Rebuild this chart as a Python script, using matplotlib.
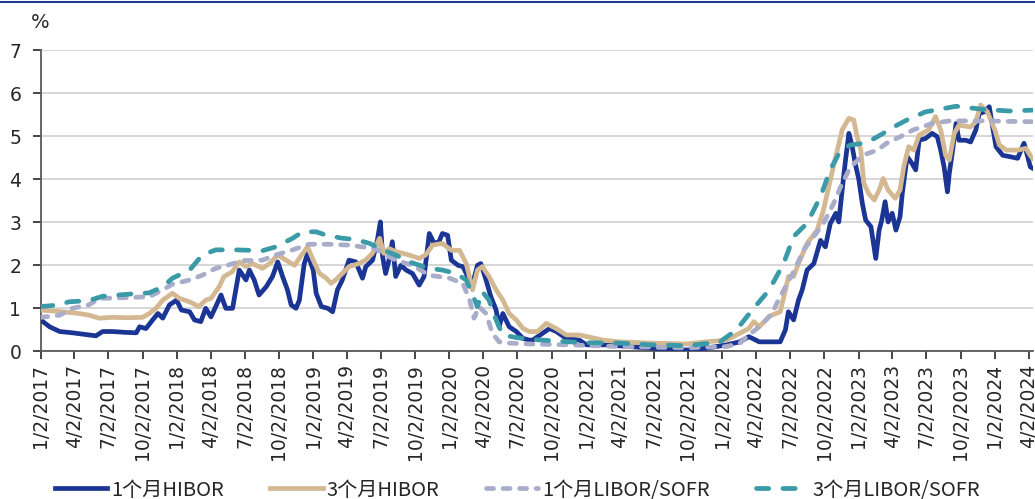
import matplotlib
matplotlib.use("Agg")
import matplotlib.pyplot as plt
from matplotlib.lines import Line2D
import pandas as pd

plt.rcParams["font.family"] = ["Noto Sans CJK SC", "DejaVu Sans"]
plt.rcParams["axes.unicode_minus"] = False

# ---- data ----
hibor_1m_dates = [
    "2017-01-02", "2017-01-26", "2017-02-22", "2017-03-28", "2017-04-24", "2017-05-30",
    "2017-06-17", "2017-07-13", "2017-08-18", "2017-09-15", "2017-09-24", "2017-10-11",
    "2017-10-29", "2017-11-12", "2017-11-25", "2017-12-13", "2018-01-01", "2018-01-14",
    "2018-02-05", "2018-02-18", "2018-03-07", "2018-03-20", "2018-04-03", "2018-04-16",
    "2018-04-30", "2018-05-13", "2018-05-31", "2018-06-18", "2018-07-06", "2018-07-15",
    "2018-07-28", "2018-08-10", "2018-08-29", "2018-09-15", "2018-09-29", "2018-10-12",
    "2018-10-25", "2018-11-04", "2018-11-17", "2018-11-26", "2018-12-09", "2018-12-18",
    "2019-01-02", "2019-01-10", "2019-01-24", "2019-02-10", "2019-02-23", "2019-03-08",
    "2019-03-21", "2019-04-08", "2019-04-26", "2019-05-14", "2019-05-23", "2019-06-10",
    "2019-06-23", "2019-07-01", "2019-07-07", "2019-07-15", "2019-07-24", "2019-08-02",
    "2019-08-11", "2019-08-25", "2019-09-08", "2019-09-25", "2019-10-13", "2019-10-26",
    "2019-11-09", "2019-11-22", "2019-12-05", "2019-12-14", "2019-12-28", "2020-01-07",
    "2020-01-25", "2020-02-07", "2020-02-16", "2020-03-02", "2020-03-17", "2020-03-26",
    "2020-04-09", "2020-04-22", "2020-05-06", "2020-05-14", "2020-05-24", "2020-06-10",
    "2020-06-29", "2020-07-17", "2020-08-03", "2020-08-12", "2020-09-26", "2020-10-14",
    "2020-11-10", "2020-12-15", "2021-01-03", "2021-02-26", "2021-04-27", "2021-06-29",
    "2021-09-27", "2021-11-20", "2022-01-13", "2022-02-18", "2022-03-14", "2022-04-11",
    "2022-05-25", "2022-06-06", "2022-06-20", "2022-06-28", "2022-07-12", "2022-07-25",
    "2022-08-04", "2022-08-17", "2022-09-04", "2022-09-22", "2022-10-05", "2022-10-18",
    "2022-11-02", "2022-11-10", "2022-11-19", "2022-11-28", "2022-12-07", "2022-12-15",
    "2022-12-24", "2023-01-03", "2023-01-12", "2023-01-21", "2023-02-04", "2023-02-17",
    "2023-02-26", "2023-03-05", "2023-03-14", "2023-03-22", "2023-04-02", "2023-04-12",
    "2023-04-23", "2023-04-29", "2023-05-12", "2023-05-25", "2023-06-04", "2023-06-13",
    "2023-06-30", "2023-07-18", "2023-08-01", "2023-08-10", "2023-08-19", "2023-08-28",
    "2023-09-02", "2023-09-11", "2023-09-20", "2023-09-28", "2023-10-16", "2023-10-29",
    "2023-11-12", "2023-11-21", "2023-12-05", "2023-12-18", "2023-12-27", "2024-01-05",
    "2024-01-23", "2024-02-10", "2024-03-03", "2024-03-20", "2024-03-29", "2024-04-06",
    "2024-04-12",
]
hibor_1m = [
    0.73, 0.57, 0.46, 0.43, 0.40, 0.36,
    0.46, 0.46, 0.44, 0.43, 0.57, 0.53,
    0.73, 0.88, 0.77, 1.08, 1.19, 0.96,
    0.92, 0.73, 0.69, 1.00, 0.80, 1.04,
    1.31, 1.00, 1.00, 1.89, 1.66, 1.89,
    1.66, 1.31, 1.50, 1.74, 2.08, 1.74,
    1.43, 1.08, 1.00, 1.19, 2.04, 2.27,
    1.89, 1.35, 1.04, 1.00, 0.92, 1.43,
    1.66, 2.12, 2.08, 1.70, 1.97, 2.12,
    2.59, 3.01, 2.20, 1.81, 2.12, 2.55,
    1.74, 2.00, 1.89, 1.81, 1.54, 1.74,
    2.74, 2.51, 2.55, 2.74, 2.70, 2.12,
    2.00, 1.97, 1.81, 1.50, 2.00, 2.04,
    1.66, 1.27, 0.96, 0.57, 0.88, 0.57,
    0.46, 0.30, 0.26, 0.26, 0.53, 0.46,
    0.30, 0.26, 0.15, 0.15, 0.11, 0.07,
    0.03, 0.07, 0.15, 0.22, 0.34, 0.22,
    0.22, 0.22, 0.50, 0.92, 0.73, 1.19,
    1.43, 1.89, 2.04, 2.58, 2.43, 2.97,
    3.21, 3.01, 3.75, 4.45, 5.07, 4.80,
    4.37, 3.98, 3.44, 3.05, 2.90, 2.16,
    2.82, 3.05, 3.48, 3.01, 3.21, 2.82,
    3.13, 3.67, 4.53, 4.37, 4.22, 4.91,
    4.95, 5.07, 4.99, 4.68, 4.29, 3.71,
    4.14, 4.68, 5.30, 4.91, 4.91, 4.87,
    5.15, 5.53, 5.57, 5.69, 5.22, 4.76,
    4.56, 4.53, 4.49, 4.84, 4.56, 4.29,
    4.26,
]

hibor_3m_dates = [
    "2017-01-02", "2017-02-28", "2017-04-15", "2017-05-11", "2017-06-08", "2017-07-13",
    "2017-08-27", "2017-10-02", "2017-10-20", "2017-11-07", "2017-11-25", "2017-12-21",
    "2018-01-09", "2018-02-05", "2018-03-02", "2018-03-20", "2018-04-03", "2018-04-25",
    "2018-05-08", "2018-05-30", "2018-06-18", "2018-07-06", "2018-07-23", "2018-08-19",
    "2018-09-07", "2018-09-29", "2018-10-21", "2018-11-13", "2018-12-05", "2018-12-18",
    "2019-01-02", "2019-01-19", "2019-02-06", "2019-02-19", "2019-03-03", "2019-03-21",
    "2019-04-08", "2019-05-04", "2019-05-22", "2019-06-10", "2019-06-29", "2019-07-10",
    "2019-07-24", "2019-08-11", "2019-09-16", "2019-10-13", "2019-10-30", "2019-11-18",
    "2019-12-14", "2020-01-07", "2020-01-29", "2020-02-16", "2020-03-04", "2020-03-17",
    "2020-03-30", "2020-04-17", "2020-05-06", "2020-05-24", "2020-06-10", "2020-06-29",
    "2020-07-17", "2020-08-03", "2020-08-25", "2020-09-17", "2020-10-14", "2020-11-10",
    "2020-12-15", "2021-02-17", "2021-04-01", "2021-06-29", "2021-09-27", "2021-11-20",
    "2022-01-13", "2022-02-18", "2022-03-14", "2022-03-27", "2022-04-11", "2022-05-07",
    "2022-06-06", "2022-06-20", "2022-06-28", "2022-07-12", "2022-07-25", "2022-08-17",
    "2022-09-13", "2022-09-30", "2022-10-18", "2022-11-06", "2022-11-19", "2022-12-07",
    "2022-12-20", "2022-12-29", "2023-01-08", "2023-01-16", "2023-01-29", "2023-02-13",
    "2023-02-26", "2023-03-09", "2023-03-22", "2023-04-10", "2023-04-23", "2023-05-03",
    "2023-05-16", "2023-05-30", "2023-06-13", "2023-07-09", "2023-07-27", "2023-08-10",
    "2023-08-23", "2023-09-02", "2023-09-15", "2023-09-28", "2023-10-29", "2023-11-12",
    "2023-11-25", "2023-12-13", "2024-01-02", "2024-01-14", "2024-02-02", "2024-03-03",
    "2024-03-25", "2024-04-08", "2024-04-12",
]
hibor_3m = [
    0.96, 0.92, 0.88, 0.84, 0.77, 0.79,
    0.78, 0.79, 0.88, 1.00, 1.19, 1.35,
    1.23, 1.15, 1.04, 1.19, 1.23, 1.50,
    1.74, 1.85, 2.08, 1.97, 2.04, 1.93,
    2.04, 2.24, 2.12, 2.00, 2.28, 2.43,
    2.12, 1.81, 1.70, 1.58, 1.66, 1.81,
    1.97, 2.04, 2.12, 2.28, 2.63, 2.28,
    2.39, 2.32, 2.24, 2.16, 2.24, 2.47,
    2.51, 2.35, 2.35, 2.04, 1.43, 1.89,
    1.97, 1.74, 1.43, 1.19, 0.88, 0.73,
    0.53, 0.46, 0.46, 0.65, 0.53, 0.38,
    0.38, 0.26, 0.22, 0.19, 0.17, 0.22,
    0.26, 0.42, 0.53, 0.69, 0.57, 0.81,
    0.92, 1.42, 1.74, 1.74, 2.04, 2.51,
    2.82, 3.29, 3.98, 4.68, 5.15, 5.42,
    5.38, 4.99, 4.68, 3.91, 3.67, 3.52,
    3.75, 4.02, 3.75, 3.56, 3.75, 4.29,
    4.76, 4.68, 5.03, 5.15, 5.46, 5.15,
    4.56, 4.45, 5.07, 5.26, 5.22, 5.34,
    5.73, 5.57, 5.15, 4.80, 4.68, 4.68,
    4.72, 4.53, 4.49,
]

libor_1m_dates = [
    "2017-01-02", "2017-02-22", "2017-03-28", "2017-05-11", "2017-06-08", "2017-08-27",
    "2017-10-20", "2017-11-25", "2017-12-21", "2018-02-05", "2018-03-11", "2018-04-16",
    "2018-05-21", "2018-06-26", "2018-08-19", "2018-09-24", "2018-11-08", "2018-12-22",
    "2019-02-15", "2019-04-08", "2019-05-13", "2019-06-18", "2019-07-15", "2019-08-11",
    "2019-09-25", "2019-11-09", "2020-01-02", "2020-02-07", "2020-02-25", "2020-03-08",
    "2020-03-21", "2020-04-09", "2020-04-26", "2020-05-14", "2020-06-10", "2020-08-03",
    "2020-11-19", "2021-04-01", "2021-09-27", "2022-01-13", "2022-02-18", "2022-03-14",
    "2022-04-11", "2022-05-16", "2022-05-28", "2022-06-20", "2022-07-12", "2022-08-08",
    "2022-09-04", "2022-09-30", "2022-10-27", "2022-11-15", "2022-12-11", "2023-01-16",
    "2023-02-21", "2023-03-18", "2023-04-23", "2023-05-28", "2023-07-18", "2023-09-02",
    "2023-11-30", "2024-04-12",
]
libor_1m = [
    0.79, 0.84, 1.00, 1.08, 1.23, 1.25,
    1.27, 1.43, 1.56, 1.66, 1.77, 1.93,
    2.01, 2.11, 2.12, 2.24, 2.36, 2.49,
    2.49, 2.47, 2.43, 2.39, 2.24, 2.12,
    2.00, 1.77, 1.70, 1.58, 1.19, 0.77,
    1.04, 0.88, 0.42, 0.22, 0.19, 0.17,
    0.15, 0.11, 0.08, 0.11, 0.19, 0.38,
    0.57, 0.88, 1.12, 1.50, 1.85, 2.36,
    2.67, 2.98, 3.44, 3.83, 4.29, 4.57,
    4.68, 4.84, 4.99, 5.15, 5.30, 5.36,
    5.36, 5.34,
]

libor_3m_dates = [
    "2017-01-02", "2017-02-22", "2017-03-18", "2017-05-11", "2017-06-17", "2017-08-27",
    "2017-10-20", "2017-11-25", "2017-12-21", "2018-02-05", "2018-03-11", "2018-04-16",
    "2018-06-08", "2018-08-19", "2018-09-24", "2018-11-08", "2018-12-05", "2019-01-10",
    "2019-02-06", "2019-03-21", "2019-04-26", "2019-06-02", "2019-07-07", "2019-08-11",
    "2019-09-16", "2019-11-09", "2019-12-14", "2020-01-20", "2020-02-16", "2020-03-04",
    "2020-03-17", "2020-03-30", "2020-04-17", "2020-05-06", "2020-05-24", "2020-06-29",
    "2020-08-03", "2020-11-19", "2021-01-03", "2021-04-01", "2021-06-29", "2021-09-27",
    "2021-12-25", "2022-02-09", "2022-03-23", "2022-05-07", "2022-06-15", "2022-07-12",
    "2022-08-17", "2022-09-22", "2022-10-18", "2022-11-15", "2022-12-11", "2023-01-16",
    "2023-02-13", "2023-03-09", "2023-04-06", "2023-05-11", "2023-06-30", "2023-09-20",
    "2023-11-30", "2024-02-10", "2024-04-12",
]
libor_3m = [
    1.04, 1.08, 1.15, 1.18, 1.28, 1.33,
    1.36, 1.50, 1.70, 1.89, 2.24, 2.36,
    2.36, 2.34, 2.43, 2.63, 2.78, 2.78,
    2.70, 2.63, 2.60, 2.51, 2.36, 2.24,
    2.08, 1.93, 1.89, 1.81, 1.66, 1.31,
    1.04, 1.39, 1.19, 0.73, 0.38, 0.32,
    0.28, 0.22, 0.20, 0.19, 0.15, 0.13,
    0.21, 0.50, 0.96, 1.42, 2.04, 2.67,
    2.98, 3.60, 4.22, 4.68, 4.80, 4.84,
    4.95, 5.07, 5.22, 5.38, 5.57, 5.70,
    5.63, 5.59, 5.61,
]

series_labels = ["1个月HIBOR", "3个月HIBOR", "1个月LIBOR/SOFR", "3个月LIBOR/SOFR"]
tick_dates = pd.date_range("2017-01-01", periods=30, freq="3MS") + pd.Timedelta(days=1)

# ---- figure ----
fig = plt.figure(figsize=(10.35, 4.99), dpi=100)
ax = fig.add_axes([0.0393, 0.296, 0.9587, 0.603])

blue = "#1B3595"
beige = "#D4B892"
grey = "#A9ADCA"
teal = "#3A9AA7"
lw = 3.4

ax.plot(pd.to_datetime(hibor_1m_dates), hibor_1m, color=blue, lw=lw,
        solid_joinstyle="round", label=series_labels[0], zorder=3)
ax.plot(pd.to_datetime(hibor_3m_dates), hibor_3m, color=beige, lw=lw,
        solid_joinstyle="round", label=series_labels[1], zorder=3)
ax.plot(pd.to_datetime(libor_1m_dates), libor_1m, color=grey, lw=lw,
        dashes=(1.5, 2.0), dash_capstyle="round", label=series_labels[2], zorder=3)
ax.plot(pd.to_datetime(libor_3m_dates), libor_3m, color=teal, lw=lw,
        dashes=(2.6, 3.0), dash_capstyle="round", label=series_labels[3], zorder=3)

tick_font = {"family": "DejaVu Sans", "size": 13.5}
ax.set_xlim(pd.Timestamp("2017-01-02"), pd.Timestamp("2024-04-13"))
ax.set_ylim(0, 7)
ax.set_yticks(range(0, 8))
ax.set_yticklabels([str(v) for v in range(0, 8)], fontdict=tick_font)
ax.set_xticks(tick_dates)
ax.set_xticklabels([f"{d.month}/{d.day}/{d.year}" for d in tick_dates],
                   rotation=90, fontdict=tick_font)
ax.tick_params(axis="y", colors="#262626", length=6, width=1.2,
               direction="out", pad=8)
ax.tick_params(axis="x", length=6, width=1.2, direction="out", pad=3, colors="#262626")

ax.grid(axis="y", color="#D0D0D0", lw=1.2)
ax.set_axisbelow(True)
for s in ["top", "right"]:
    ax.spines[s].set_visible(False)
for s in ["left", "bottom"]:
    ax.spines[s].set_color("#595959")
    ax.spines[s].set_linewidth(1.3)

fig.text(0.039, 0.955, "%", fontsize=14, family="DejaVu Sans",
         ha="center", va="center", color="#262626")

# dark rule along the top edge
fig.add_artist(Line2D([0, 1], [0.996, 0.996], transform=fig.transFigure,
                      color="#1F3A93", lw=1.5))

leg = fig.legend(loc="center", bbox_to_anchor=(0.5, 0.018), ncol=4, frameon=False,
                 fontsize=14.5, handlelength=2.6, handletextpad=0.2,
                 columnspacing=2.3)
for t in leg.get_texts():
    t.set_color("#262626")

fig.savefig("out.png", dpi=100)
